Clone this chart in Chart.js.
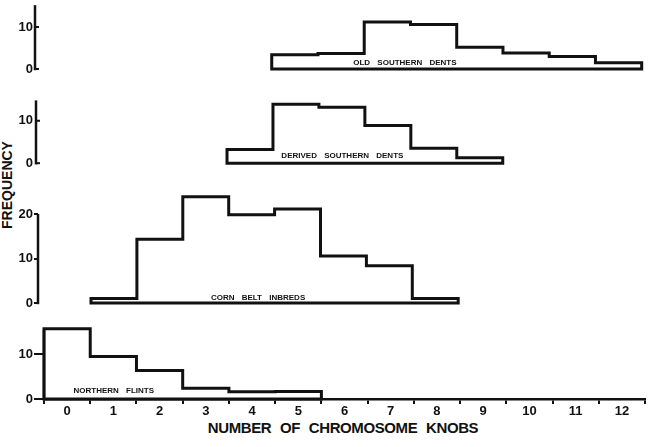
<!DOCTYPE html>
<html><head><meta charset="utf-8">
<script src="https://cdn.jsdelivr.net/npm/chart.js@4.4.1/dist/chart.umd.min.js"></script>
<style>
html,body{margin:0;padding:0;background:#fff;}
body{width:653px;height:447px;position:relative;overflow:hidden;}
canvas{position:absolute;left:0;}
.t{position:absolute;font-family:'Liberation Sans',Arial,sans-serif;font-weight:bold;color:#111;white-space:nowrap;}
</style></head><body>
<div class="t" style="left:0;width:686px;top:420px;height:15px;line-height:15px;text-align:center;font-size:15px;letter-spacing:-0.4px;word-spacing:5px;">NUMBER OF CHROMOSOME KNOBS</div>
<div class="t" style="left:-43px;top:178px;width:100px;height:14px;line-height:14px;text-align:center;font-size:14px;transform:rotate(-90deg);">FREQUENCY</div>
<script>
// ---- data ----
const knobTicks = [0,1,2,3,4,5,6,7,8,9,10,11,12];
const knobTickLabels = ['0','1','2','3','4','5','6','7','8','9','10','11','12'];
const yTicksSmall = [0,10];
const yTicksLarge = [0,10,20];
const panelNames = ['OLD SOUTHERN DENTS','DERIVED SOUTHERN DENTS','CORN BELT INBREDS','NORTHERN FLINTS'];

const oldSouthernKnobs = [5,6,7,8,9,10,11,12];
const oldSouthernFreq  = [3.4,3.7,11.2,10.6,5.2,3.8,3.0,1.5];

const derivedSouthernKnobs = [4,5,6,7,8,9];
const derivedSouthernFreq  = [3.2,13.9,13.2,8.9,3.5,1.3];

const cornBeltKnobs = [1,2,3,4,5,6,7,8];
const cornBeltFreq  = [1.0,14.4,24,19.9,21.2,10.6,8.4,1.0];

const northernFlintKnobs = [0,1,2,3,4,5];
const northernFlintFreq  = [15.7,9.5,6.4,2.4,1.6,1.7];

// ---- layout per panel ----
const panels = [
  {knobs: oldSouthernKnobs, freq: oldSouthernFreq, name: panelNames[0], yTicks: yTicksSmall,
   zeroPx: 68.5, pxPerUnit: 4.2, yMax: 15.3, axisTop: 15.2, axisPx: 35, leftEdgePx: 40.5, rightEdgePx: 641.7,
   labelAt: [7.38, 1.5], xAxis: false, leftTicks: false},
  {knobs: derivedSouthernKnobs, freq: derivedSouthernFreq, name: panelNames[1], yTicks: yTicksSmall,
   zeroPx: 163.5, pxPerUnit: 4.35, yMax: 15.0, axisTop: 14.8, axisPx: 36, leftEdgePx: 43.2, rightEdgePx: 640.6,
   labelAt: [6.01, 1.8], xAxis: false, leftTicks: false},
  {knobs: cornBeltKnobs, freq: cornBeltFreq, name: panelNames[2], yTicks: yTicksLarge,
   zeroPx: 303, pxPerUnit: 4.43, yMax: 24.8, axisTop: 20.1, axisPx: 38, leftEdgePx: 45.1, rightEdgePx: 641.8,
   labelAt: [4.14, 1.1], xAxis: false, leftTicks: true},
  {knobs: northernFlintKnobs, freq: northernFlintFreq, name: panelNames[3], yTicks: yTicksSmall,
   zeroPx: 399, pxPerUnit: 4.47, yMax: 16.3, axisTop: 15.4, axisPx: 44, leftEdgePx: 44, rightEdgePx: 645,
   labelAt: [1.01, 1.8], xAxis: true, leftTicks: true}
];

const INK = '#111';
const FONT = "'Liberation Sans', Arial, sans-serif";

const decoPlugin = {
  id: 'panelDeco',
  afterDatasetsDraw(chart, args, opts) {
    const {ctx, chartArea} = chart;
    const ys = chart.scales.y, xs = chart.scales.x;
    const ax = chartArea.left;
    const y0 = ys.getPixelForValue(0), yt = ys.getPixelForValue(opts.axisTop);
    ctx.save();
    ctx.strokeStyle = INK; ctx.lineWidth = 2.5; ctx.lineCap = 'butt';
    ctx.beginPath(); ctx.moveTo(ax, y0 + 1.2); ctx.lineTo(ax, yt); ctx.stroke();
    if (opts.rightStubs) {
      ctx.lineWidth = 2;
      opts.yTicks.forEach(v => {
        const py = ys.getPixelForValue(v);
        ctx.beginPath(); ctx.moveTo(ax, py); ctx.lineTo(ax + 4, py); ctx.stroke();
      });
    }
    ctx.fillStyle = INK;
    ctx.font = "bold 8px " + FONT;
    ctx.textAlign = 'center'; ctx.textBaseline = 'middle';
    try { ctx.wordSpacing = '5px'; } catch (e) {}
    ctx.fillText(opts.label, xs.getPixelForValue(opts.labelAt[0]), ys.getPixelForValue(opts.labelAt[1]));
    ctx.restore();
  }
};

Chart.defaults.font.family = FONT;
Chart.defaults.font.weight = 'bold';
Chart.defaults.color = INK;

const X_AXIS_H = 26;

panels.forEach(p => {
  const s = p.pxPerUnit;
  const bottomPart = p.xAxis ? X_AXIS_H : 10;
  const T = Math.round(p.zeroPx - p.yMax * s - 10);
  const H = Math.round(p.zeroPx - T + bottomPart);
  const zeroPx = T + H - bottomPart;
  const yMax = (zeroPx - T - 10) / s;
  const k = (p.rightEdgePx - p.leftEdgePx) / 13;
  const xMin = -0.5 - (p.leftEdgePx - p.axisPx) / k;

  const cv = document.createElement('canvas');
  cv.width = 653; cv.height = H;
  cv.style.top = T + 'px';
  cv.style.width = '653px'; cv.style.height = H + 'px';
  document.body.appendChild(cv);

  // closed histogram outline built from the data arrays
  const first = p.knobs[0] - 0.5;
  const last = p.knobs[p.knobs.length - 1] + 0.5;
  const pts = [{x: first, y: 0}];
  p.knobs.forEach((kn, i) => {
    pts.push({x: kn - 0.5, y: p.freq[i]});
    pts.push({x: kn + 0.5, y: p.freq[i]});
  });
  pts.push({x: last, y: 0});
  pts.push({x: first, y: 0});

  const tickLen = p.leftTicks ? (p.axisPx - 34) : 0;

  new Chart(cv, {
    type: 'scatter',
    data: {datasets: [{
      label: p.name, data: pts, showLine: true, borderColor: INK, borderWidth: 3,
      pointRadius: 0, pointHoverRadius: 0, fill: false, tension: 0, clip: false,
      borderJoinStyle: 'miter', borderCapStyle: 'square'
    }]},
    options: {
      responsive: false, animation: false, devicePixelRatio: 1, events: [],
      layout: {padding: {left: 0, right: 653 - p.rightEdgePx, top: 10, bottom: p.xAxis ? 0 : 10}},
      plugins: {
        legend: {display: false}, tooltip: {enabled: false},
        panelDeco: {axisTop: p.axisTop, yTicks: p.yTicks, label: p.name, labelAt: p.labelAt, rightStubs: !p.leftTicks}
      },
      scales: {
        x: {
          type: 'linear', min: xMin, max: 12.5, display: p.xAxis,
          afterBuildTicks: sc => {
            const t = [];
            for (let v = -0.5; v <= 12.5; v += 0.5) t.push({value: v});
            sc.ticks = t;
          },
          afterFit: sc => { if (p.xAxis) sc.height = X_AXIS_H; },
          grid: {
            display: true, drawOnChartArea: false, drawTicks: true, tickLength: 5, lineWidth: 2,
            color: c => (c.tick && Number.isInteger(c.tick.value)) ? 'rgba(0,0,0,0)' : INK
          },
          border: {display: true, color: INK, width: 2.5},
          ticks: {
            autoSkip: false, maxRotation: 0, minRotation: 0, padding: 0, color: INK,
            font: {size: 13, weight: 'bold'},
            callback: v => {
              const i = knobTicks.indexOf(v);
              return i >= 0 ? knobTickLabels[i] : '';
            }
          }
        },
        y: {
          type: 'linear', min: 0, max: yMax,
          afterBuildTicks: sc => { sc.ticks = p.yTicks.map(v => ({value: v})); },
          afterFit: sc => { sc.width = p.axisPx; },
          grid: {display: p.leftTicks, drawOnChartArea: false, drawTicks: p.leftTicks, tickLength: tickLen, lineWidth: 2, color: INK},
          border: {display: false},
          ticks: {padding: p.leftTicks ? 1 : (p.axisPx - 33), color: INK, font: {size: 13, weight: 'bold'}}
        }
      }
    },
    plugins: [decoPlugin]
  });
});
</script>
</body></html>
